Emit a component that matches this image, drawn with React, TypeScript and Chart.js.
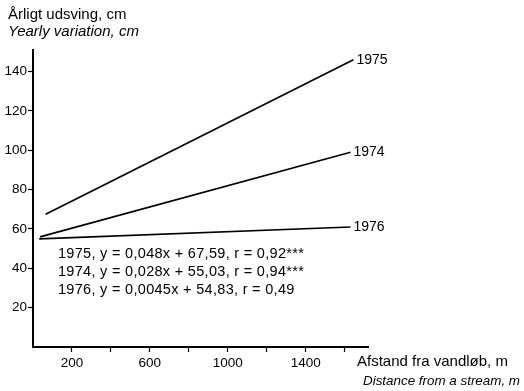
import React, { useEffect, useRef } from "react";
import { Chart, registerables } from "chart.js";

Chart.register(...registerables);

const seriesNames = ["1975", "1974", "1976"];
const xValues1975 = [65, 1645];
const yValues1975 = [67.5, 146];
const xValues1974 = [36, 1630];
const yValues1974 = [56, 99];
const xValues1976 = [32, 1630];
const yValues1976 = [55, 61];
const xTicks = [200, 400, 600, 800, 1000, 1200, 1400, 1600];
const xTickLabels = ["200", "", "600", "", "1000", "", "1400", ""];
const yTicks = [20, 40, 60, 80, 100, 120, 140];
const equations = [
  "1975, y = 0,048x + 67,59, r = 0,92***",
  "1974, y = 0,028x + 55,03, r = 0,94***",
  "1976, y = 0,0045x + 54,83, r = 0,49",
];
const yTitle = ["Årligt udsving, cm", "Yearly variation, cm"];
const xTitle = ["Afstand fra vandløb, m", "Distance from a stream, m"];

const FONT = "'Liberation Sans', Arial, Helvetica, sans-serif";

const toPts = (xs: number[], ys: number[]) => xs.map((x, i) => ({ x, y: ys[i] }));

const textPlugin = {
  id: "textPlugin",
  afterDraw(chart: any) {
    const ctx = chart.ctx;
    ctx.save();
    ctx.fillStyle = "#000";
    ctx.textBaseline = "middle";
    ctx.textAlign = "left";
    // end labels
    chart.data.datasets.forEach((ds: any, i: number) => {
      const meta = chart.getDatasetMeta(i);
      const last = meta.data[meta.data.length - 1];
      ctx.font = `14px ${FONT}`;
      ctx.fillText(seriesNames[i], last.x + 3, last.y);
    });
    // equations
    ctx.font = `14.5px ${FONT}`;
    try { (ctx as any).letterSpacing = "0.3px"; } catch (e) {}
    equations.forEach((t, i) => {
      ctx.fillText(t, 58, 254 + i * 18);
    });
    try { (ctx as any).letterSpacing = "0px"; } catch (e) {}
    // y title
    ctx.font = `15px ${FONT}`;
    ctx.fillText(yTitle[0], 8, 15);
    ctx.font = `italic 15px ${FONT}`;
    ctx.fillText(yTitle[1], 8, 32);
    // x title
    ctx.font = `15px ${FONT}`;
    ctx.fillText(xTitle[0], 357, 362);
    ctx.font = `italic 13.4px ${FONT}`;
    ctx.fillText(xTitle[1], 363, 381);
    ctx.restore();
  },
};

export default function App() {
  const ref = useRef<HTMLCanvasElement>(null);
  useEffect(() => {
    if (!ref.current) return;
    const lineStyle = {
      borderColor: "#000",
      borderWidth: 1.7,
      pointRadius: 0,
      showLine: true,
      fill: false,
    };
    const chart = new Chart(ref.current, {
      type: "scatter",
      data: {
        datasets: [
          { label: seriesNames[0], data: toPts(xValues1975, yValues1975), ...lineStyle },
          { label: seriesNames[1], data: toPts(xValues1974, yValues1974), ...lineStyle },
          { label: seriesNames[2], data: toPts(xValues1976, yValues1976), ...lineStyle },
        ],
      },
      options: {
        animation: false,
        responsive: false,
        layout: { padding: { left: 0, top: 50, right: 156, bottom: 0 } },
        plugins: { legend: { display: false }, tooltip: { enabled: false } },
        scales: {
          x: {
            type: "linear",
            min: 0,
            max: 1720,
            afterBuildTicks: (s: any) => {
              s.ticks = xTicks.map((v) => ({ value: v }));
            },
            afterFit: (s: any) => {
              s.height = 44;
            },
            ticks: {
              color: "#000",
              font: { family: FONT, size: 13.5 },
              padding: 3,
              maxRotation: 0,
              autoSkip: false,
              callback: (v: any) => {
                const i = xTicks.indexOf(Number(v));
                return i >= 0 ? xTickLabels[i] : "";
              },
            },
            grid: { drawOnChartArea: false, color: "#000", tickLength: 5, tickWidth: 1.2 },
            border: { color: "#000", width: 2 },
          },
          y: {
            type: "linear",
            min: 0,
            max: 151,
            afterBuildTicks: (s: any) => {
              s.ticks = yTicks.map((v) => ({ value: v }));
            },
            afterFit: (s: any) => {
              s.width = 33;
            },
            ticks: {
              color: "#000",
              font: { family: FONT, size: 13.5 },
              padding: 1,
              autoSkip: false,
            },
            grid: { drawOnChartArea: false, color: "#000", tickLength: 5, tickWidth: 1.2 },
            border: { color: "#000", width: 2 },
          },
        },
      },
      plugins: [textPlugin],
    } as any);
    return () => chart.destroy();
  }, []);
  return (
    <div style={{ position: "absolute", left: 0, top: 0, width: 524, height: 391, background: "#fff" }}>
      <canvas ref={ref} width={524} height={391} style={{ width: 524, height: 391 }} />
    </div>
  );
}
